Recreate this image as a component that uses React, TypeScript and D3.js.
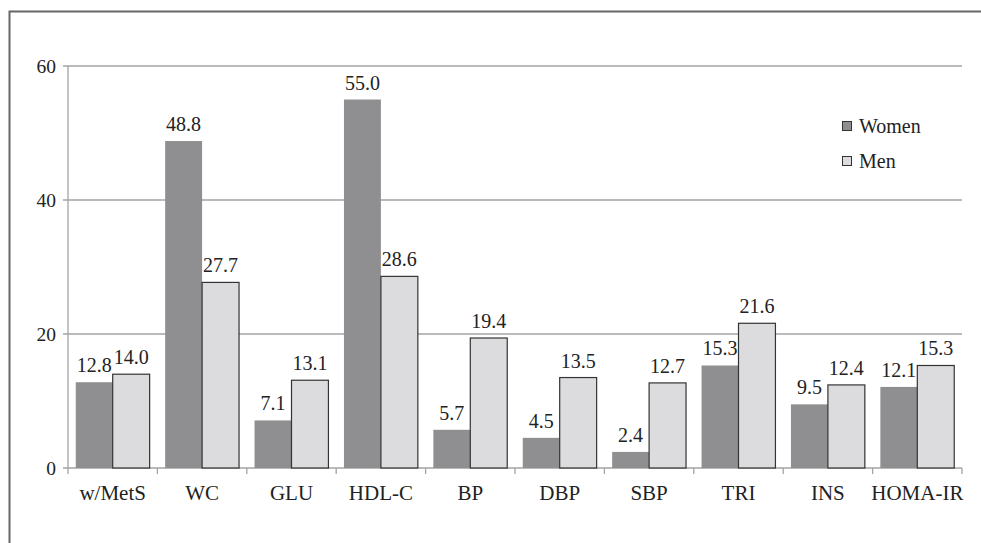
import React from "react";
import * as d3 from "d3";

const categories = ["w/MetS", "WC", "GLU", "HDL-C", "BP", "DBP", "SBP", "TRI", "INS", "HOMA-IR"];
const women = [12.8, 48.8, 7.1, 55.0, 5.7, 4.5, 2.4, 15.3, 9.5, 12.1];
const men = [14.0, 27.7, 13.1, 28.6, 19.4, 13.5, 12.7, 21.6, 12.4, 15.3];
const yTicks = [0, 20, 40, 60];
const seriesNames = ["Women", "Men"];
const seriesColors = ["#8f8f91", "#dcdcde"];

const App = () => {
  const width = 981;
  const height = 543;
  const left = 68;
  const right = 962;
  const top = 66;
  const bottom = 468;

  const x = d3.scaleBand().domain(categories).range([left, right]).paddingInner(0).paddingOuter(0);
  const inner = d3.scaleBand().domain(seriesNames).range([0, x.bandwidth()]).paddingInner(0).paddingOuter(0.21);
  const y = d3.scaleLinear().domain([0, 60]).range([bottom, top]);
  const font = "Liberation Serif, Times New Roman, serif";

  const series = [women, men];

  return (
    <svg width={width} height={height} style={{ position: "absolute", left: 0, top: 0, fontFamily: font }}>
      <rect width={width} height={height} fill="#fff" />
      {/* frame */}
      <path d={`M9.5,${height} V11.5 H${width}`} fill="none" stroke="#666" strokeWidth={2} />

      {/* grid */}
      {yTicks.map((t) => (
        <g key={t}>
          <line x1={left - 5} x2={right} y1={y(t)} y2={y(t)} stroke="#a3a3a3" strokeWidth={1.3} />
          <text x={56} y={y(t)} dy="0.35em" textAnchor="end" fontSize={19.5} fill="#222">{t}</text>
        </g>
      ))}
      <line x1={left} x2={left} y1={top} y2={bottom + 6} stroke="#a3a3a3" strokeWidth={1.3} />
      {categories.map((c) => (
        <line key={c} x1={(x(c) as number) + x.bandwidth()} x2={(x(c) as number) + x.bandwidth()}
          y1={bottom} y2={bottom + 6} stroke="#a3a3a3" strokeWidth={1.3} />
      ))}

      {/* bars */}
      {categories.map((c, i) => (
        <g key={c} transform={`translate(${x(c)},0)`}>
          {seriesNames.map((s, j) => {
            const v = series[j][i];
            const bx = inner(s) as number;
            return (
              <g key={s}>
                <rect x={bx} y={y(v)} width={inner.bandwidth()} height={bottom - y(v)}
                  fill={seriesColors[j]} stroke={j === 1 ? "#333" : "none"} strokeWidth={1.2} />
                <text x={bx + inner.bandwidth() / 2} y={y(v) - 10} textAnchor="middle" fontSize={20} fill="#222">
                  {v.toFixed(1)}
                </text>
              </g>
            );
          })}
          <text x={x.bandwidth() / 2} y={500} textAnchor="middle" fontSize={21} fill="#222">{c}</text>
        </g>
      ))}

      {/* legend */}
      {seriesNames.map((s, j) => (
        <g key={s} transform={`translate(842,${121 + j * 35})`}>
          <rect x={0.5} y={0.5} width={9} height={9} fill={seriesColors[j]} stroke="#333" strokeWidth={1} />
          <text x={17} y={12} fontSize={20} fill="#222">{s}</text>
        </g>
      ))}
    </svg>
  );
};

export default App;
